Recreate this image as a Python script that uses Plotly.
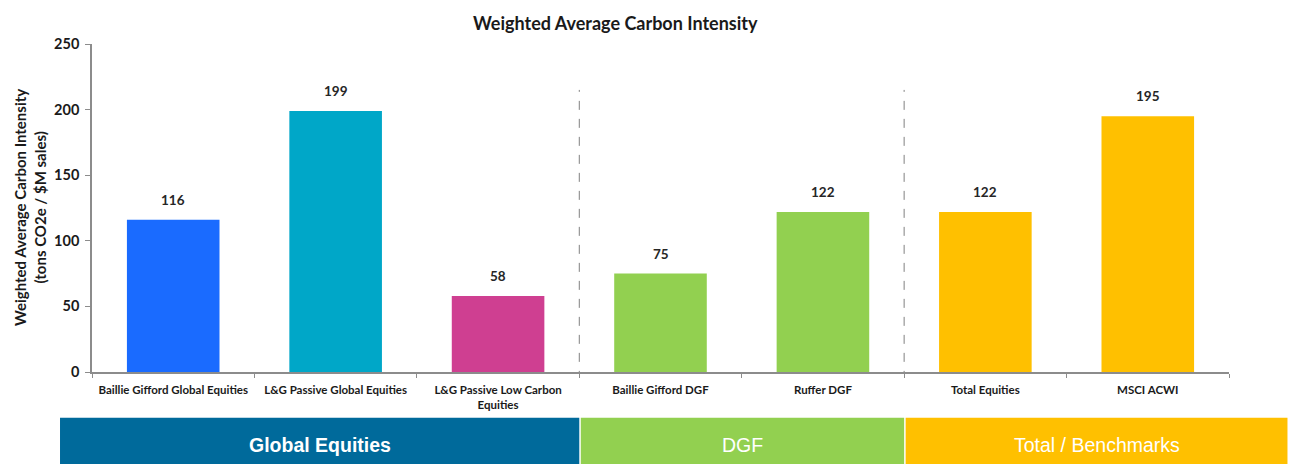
import plotly.graph_objects as go

categories = [
    "Baillie Gifford Global Equities",
    "L&G Passive Global Equities",
    "L&G Passive Low Carbon<br>Equities",
    "Baillie Gifford DGF",
    "Ruffer DGF",
    "Total Equities",
    "MSCI ACWI",
]
values = [116, 199, 58, 75, 122, 122, 195]
bar_colors = ["#1A6BFF", "#00A7C8", "#CF3F91", "#92D050", "#92D050", "#FFC000", "#FFC000"]

group_names = ["Global Equities", "DGF", "Total / Benchmarks"]
group_counts = [3, 2, 2]
group_colors = ["#006A9B", "#92D050", "#FFC000"]
group_bold = [True, False, False]

FONT = "Lato, 'Open Sans', Arial, sans-serif"
OFF = 8  # page body margin

# target page pixel positions of the plot area
L, R = 92, 1229.5
T, B = 44, 372.3
W = R - L
H = B - T

def px_to_paper_x(px):
    return (px - L) / W

def px_to_paper_y(py):
    return (B - py) / H

fig = go.Figure()
fig.add_trace(go.Bar(
    x=categories,
    y=values,
    marker=dict(color=bar_colors, line=dict(width=0)),
    width=0.57,
    hoverinfo="x+y",
))

n = len(categories)
shapes = []
annotations = []

# value labels
for c, v in zip(categories, values):
    annotations.append(dict(xref="x", yref="y", x=c, y=v, text=str(v), showarrow=False,
                            yanchor="bottom", yshift=10,
                            font=dict(family=FONT, size=13.5, color="#262626", weight="bold")))

# dashed separators between groups
pos = 0
for cnt in group_counts[:-1]:
    pos += cnt
    shapes.append(dict(type="line", xref="x", yref="y", x0=pos - 0.5, x1=pos - 0.5,
                       y0=-6, y1=215, line=dict(color="#808080", width=1, dash="dash")))

# group bands
band_edges_px = [60]
pos = 0
for cnt in group_counts:
    pos += cnt
    band_edges_px.append(L + W * pos / n)
band_edges_px[-1] = 1288
y_top = px_to_paper_y(418)
y_bot = px_to_paper_y(466)
for i, name in enumerate(group_names):
    x0 = px_to_paper_x(band_edges_px[i] + (1.5 if i > 0 else 0))
    x1 = px_to_paper_x(band_edges_px[i + 1])
    shapes.append(dict(type="rect", xref="paper", yref="paper", x0=x0, x1=x1,
                       y0=y_bot, y1=y_top, fillcolor=group_colors[i], line=dict(width=0),
                       layer="above"))
    annotations.append(dict(xref="paper", yref="paper", x=(x0 + x1) / 2,
                            y=px_to_paper_y(445), text=name, showarrow=False,
                            font=dict(family="Arial, 'Liberation Sans', sans-serif", size=19.5,
                                      color="white", weight="bold" if group_bold[i] else "normal"),
                            xanchor="center", yanchor="middle"))

# title
annotations.append(dict(xref="paper", yref="paper", x=px_to_paper_x(616), y=px_to_paper_y(23),
                        text="Weighted Average Carbon Intensity", showarrow=False,
                        font=dict(family=FONT, size=18, color="#1a1a1a", weight="bold"),
                        xanchor="center", yanchor="middle"))

# y-axis title
annotations.append(dict(xref="paper", yref="paper", x=px_to_paper_x(30), y=px_to_paper_y(208),
                        text="Weighted Average Carbon Intensity<br>(tons CO2e / $M sales)",
                        showarrow=False, textangle=-90, xanchor="center", yanchor="middle",
                        font=dict(family=FONT, size=15, color="#1a1a1a", weight="bold")))

fig.update_layout(
    width=1296, height=464,
    margin=dict(l=L - OFF, r=1296 - (R - OFF), t=T - OFF, b=464 - (B - OFF)),
    paper_bgcolor="white", plot_bgcolor="white",
    showlegend=False,
    shapes=shapes,
    annotations=annotations,
    font=dict(family=FONT, color="#1a1a1a"),
    xaxis=dict(
        showline=True, linecolor="#8C8C8C", linewidth=1.5,
        ticks="outside", tickson="boundaries", ticklen=4, tickcolor="#8C8C8C",
        tickfont=dict(family=FONT, size=11.5, color="#1a1a1a", weight="bold"),
        ticklabelstandoff=6,
        showgrid=False, range=[-0.5, n - 0.5],
    ),
    yaxis=dict(
        range=[0, 250], dtick=50, showline=True, linecolor="#8C8C8C", linewidth=1.5,
        ticks="outside", ticklen=5, tickcolor="#8C8C8C", showgrid=False, zeroline=False,
        tickfont=dict(family=FONT, size=14.5, color="#1a1a1a", weight="bold"),
        ticklabelstandoff=3,
    ),
)

fig.write_html("out.html")
